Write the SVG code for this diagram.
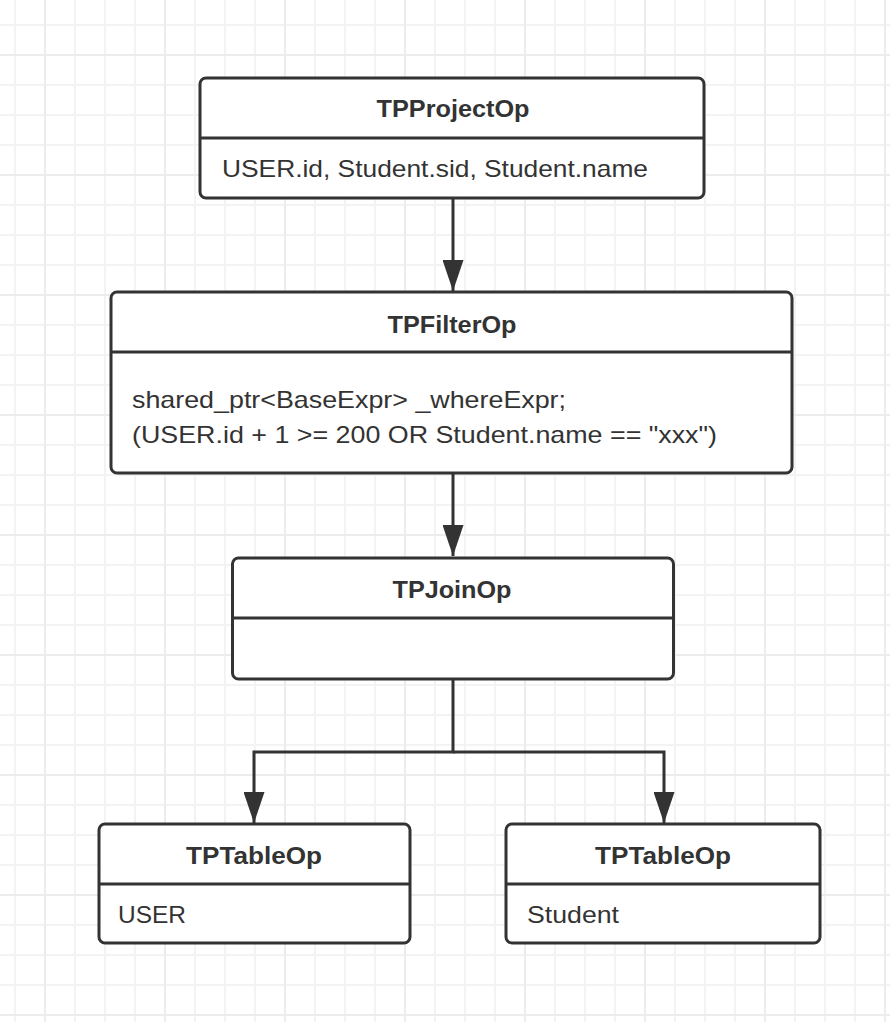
<svg xmlns="http://www.w3.org/2000/svg" width="890" height="1022" viewBox="0 0 890 1022">
<defs>
<pattern id="g1" x="0" y="10" width="30" height="30" patternUnits="userSpaceOnUse">
<path d="M15 0V30M0 15H30" stroke="#f3f3f3" stroke-width="2" fill="none"/>
</pattern>
<pattern id="g2" x="-15" y="-5" width="120" height="120" patternUnits="userSpaceOnUse">
<path d="M60 0V120M0 60H120" stroke="#ececec" stroke-width="2" fill="none"/>
</pattern>
<marker id="arr" markerUnits="userSpaceOnUse" markerWidth="31" markerHeight="21" refX="31" refY="10.5" orient="auto" viewBox="0 0 31 21">
<path d="M0 0L31 10.5L0 21Z" fill="#333"/>
</marker>
<style>
.box{fill:#fff;stroke:#333;stroke-width:3}
.div{stroke:#333;stroke-width:3;fill:none}
.title{font-family:"Liberation Sans",Arial,sans-serif;font-weight:bold;font-size:23px;fill:#333;text-anchor:middle}
.body{font-family:"Liberation Sans",Arial,sans-serif;font-size:24px;fill:#333}
.conn{stroke:#333;stroke-width:3;fill:none}
</style>
</defs>
<rect width="890" height="1022" fill="#fff"/>
<rect width="890" height="1022" fill="url(#g1)"/>
<rect width="890" height="1022" fill="url(#g2)"/>

<g id="connectors">
<path class="conn" d="M453 198V291" marker-end="url(#arr)"/>
<path class="conn" d="M453 473V556" marker-end="url(#arr)"/>
<path class="conn" d="M453 680V752H254V823" marker-end="url(#arr)"/>
<path class="conn" d="M453 752H664V823" marker-end="url(#arr)"/>
</g>

<g id="TPProjectOp">
<rect class="box" x="200" y="78" width="504" height="120" rx="6"/>
<path class="div" d="M200 138H704"/>
<text class="title" x="453" y="117" textLength="153" lengthAdjust="spacingAndGlyphs">TPProjectOp</text>
<text class="body" x="222" y="177" textLength="426" lengthAdjust="spacingAndGlyphs">USER.id, Student.sid, Student.name</text>
</g>

<g id="TPFilterOp">
<rect class="box" x="111" y="292" width="681" height="181" rx="6"/>
<path class="div" d="M111 352H792"/>
<text class="title" x="452" y="333" textLength="129" lengthAdjust="spacingAndGlyphs">TPFilterOp</text>
<text class="body" x="132" y="408" textLength="434" lengthAdjust="spacingAndGlyphs">shared_ptr&lt;BaseExpr&gt; _whereExpr;</text>
<text class="body" x="132" y="443" textLength="585" lengthAdjust="spacingAndGlyphs">(USER.id + 1 &gt;= 200 OR Student.name == "xxx")</text>
</g>

<g id="TPJoinOp">
<rect class="box" x="232.5" y="558" width="441" height="121" rx="6"/>
<path class="div" d="M232.5 618H673.5"/>
<text class="title" x="452" y="598" textLength="119" lengthAdjust="spacingAndGlyphs">TPJoinOp</text>
</g>

<g id="TPTableOp_USER">
<rect class="box" x="99" y="824" width="311" height="119" rx="6"/>
<path class="div" d="M99 884H410"/>
<text class="title" x="254" y="864" textLength="136" lengthAdjust="spacingAndGlyphs">TPTableOp</text>
<text class="body" x="118" y="923" textLength="68" lengthAdjust="spacingAndGlyphs">USER</text>
</g>

<g id="TPTableOp_Student">
<rect class="box" x="506" y="824" width="314" height="119" rx="6"/>
<path class="div" d="M506 884H820"/>
<text class="title" x="663" y="864" textLength="136" lengthAdjust="spacingAndGlyphs">TPTableOp</text>
<text class="body" x="527" y="923" textLength="92" lengthAdjust="spacingAndGlyphs">Student</text>
</g>
</svg>
